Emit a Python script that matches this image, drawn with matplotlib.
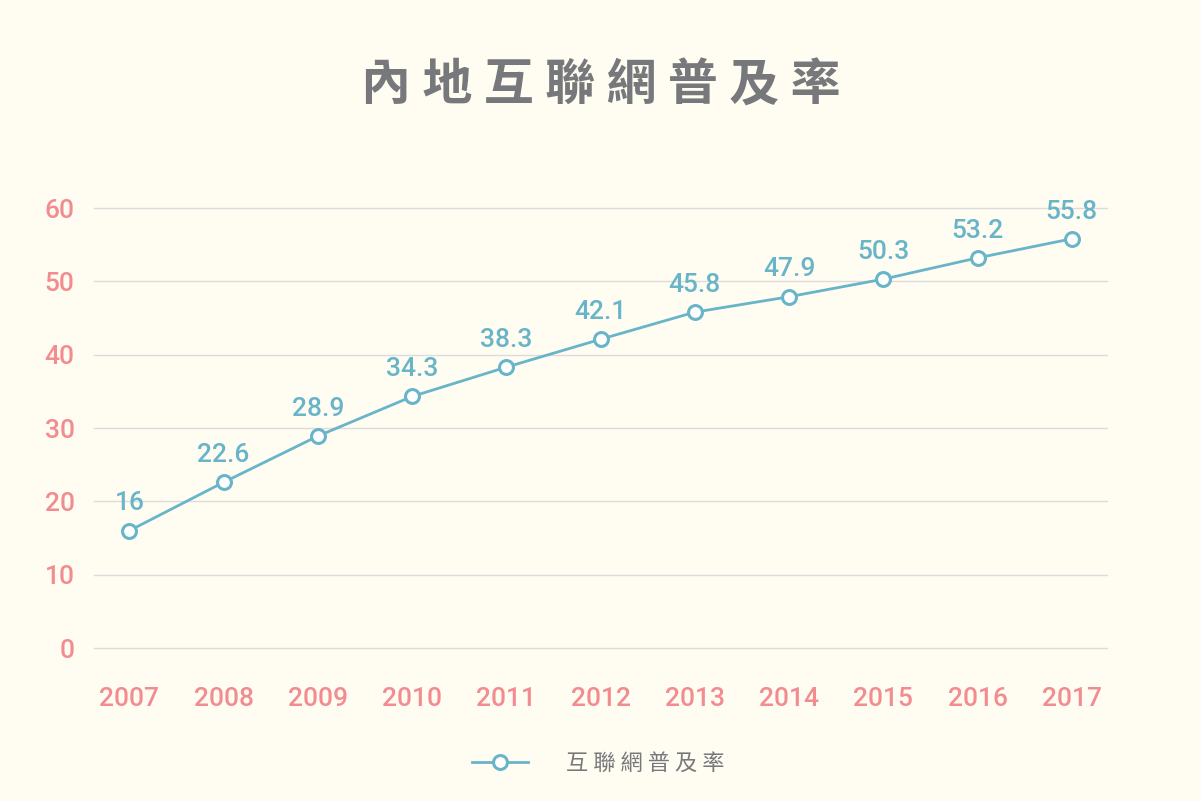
import matplotlib
matplotlib.use("Agg")
import matplotlib.pyplot as plt

# data
years = ["2007", "2008", "2009", "2010", "2011", "2012",
         "2013", "2014", "2015", "2016", "2017"]
rate = [16, 22.6, 28.9, 34.3, 38.3, 42.1, 45.8, 47.9, 50.3, 53.2, 55.8]

title = "內地互聯網普及率"
series_name = "互聯網普及率"

bg = "#fffcf1"
line_col = "#68b4c9"
tick_col = "#f28c90"
grey = "#77787b"

plt.rcParams['font.family'] = ['Noto Sans CJK TC', 'DejaVu Sans']

fig = plt.figure(figsize=(12.01, 8.01), dpi=100, facecolor=bg)
ax = fig.add_axes([0.0783, 0.191, 0.8435, 0.5493], facecolor=bg)

x = list(range(len(years)))
ax.plot(x, rate, color=line_col, lw=2.0, marker="o", ms=10,
        mfc="white", mec=line_col, mew=2.2, zorder=3, label=series_name)

# value labels
for xi, v in zip(x, rate):
    ax.annotate(f"{v:g}", (xi, v), xytext=(0, 11), textcoords="offset points",
                ha="center", va="bottom", color=line_col, fontsize=19,
                family="Roboto", fontweight="medium")

ax.set_xlim(-0.375, 10.375)
ax.set_ylim(0, 60)
ax.set_yticks(range(0, 61, 10))
ax.set_xticks(x)
ax.set_xticklabels(years)
ax.grid(axis="y", color="#dcdcdc", lw=1)
for gl in ax.get_ygridlines():
    gl.set_clip_on(False)
ax.set_axisbelow(True)
for s in ax.spines.values():
    s.set_visible(False)
ax.tick_params(length=0)
ax.tick_params(axis="y", pad=14)
ax.tick_params(axis="x", pad=28)
for lab in ax.get_xticklabels() + ax.get_yticklabels():
    lab.set_family("Roboto")
    lab.set_fontweight("medium")
    lab.set_fontsize(19)
    lab.set_color(tick_col)

fig.text(0.5, 0.893, " ".join(title), ha="center", va="center",
         fontsize=36, fontweight="black", color=grey)

leg = fig.legend(loc="center", bbox_to_anchor=(0.498, 0.047), frameon=False,
                 prop={"size": 16}, handlelength=2.5, handletextpad=1.7)
for t in leg.get_texts():
    t.set_text(" ".join(series_name))
    t.set_color(grey)

fig.savefig("out.png", dpi=100, facecolor=bg)
